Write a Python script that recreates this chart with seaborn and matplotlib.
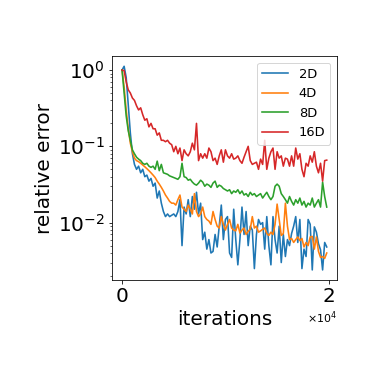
"""
Relative error vs. iterations for different dimensions (log scale)
"""

import numpy as np
import pandas as pd
import matplotlib
matplotlib.use("Agg")
import matplotlib.pyplot as plt
import seaborn as sns

plt.rcParams.update({
    'font.family': 'DejaVu Sans',
    'font.size': 11,
})

# iterations, sampled every 200 steps
iterations = list(range(0, 20000, 200))

err_2d = [1.0, 1.12, 0.8, 0.35, 0.15, 0.08, 0.058, 0.05, 0.055, 0.045,
          0.05, 0.04, 0.042, 0.035, 0.038, 0.03, 0.033, 0.021, 0.026, 0.018,
          0.014, 0.012, 0.013, 0.012, 0.0125, 0.013, 0.012, 0.014, 0.02, 0.005,
          0.016, 0.013, 0.02, 0.012, 0.022, 0.015, 0.025, 0.013, 0.018, 0.006,
          0.0075, 0.0045, 0.006, 0.004, 0.0042, 0.007, 0.0048, 0.009, 0.017, 0.006,
          0.011, 0.012, 0.004, 0.0035, 0.015, 0.006, 0.0028, 0.006, 0.016, 0.007,
          0.014, 0.005, 0.009, 0.008, 0.0025, 0.007, 0.011, 0.0095, 0.01, 0.0045,
          0.012, 0.005, 0.0028, 0.012, 0.006, 0.004, 0.009, 0.003, 0.007, 0.0036,
          0.006, 0.005, 0.0072, 0.009, 0.012, 0.0055, 0.011, 0.0025, 0.0045, 0.0036,
          0.011, 0.0095, 0.0024, 0.0088, 0.0075, 0.0053, 0.0044, 0.0024, 0.0055, 0.0048]

err_4d = [1.0, 0.6, 0.3, 0.17, 0.11, 0.085, 0.07, 0.065, 0.063, 0.06,
          0.057, 0.054, 0.051, 0.048, 0.045, 0.042, 0.039, 0.035, 0.032, 0.029,
          0.026, 0.023, 0.021, 0.019, 0.018, 0.018, 0.017, 0.02, 0.023, 0.016,
          0.015, 0.014, 0.017, 0.015, 0.013, 0.024, 0.014, 0.012, 0.013, 0.016,
          0.012, 0.011, 0.0105, 0.0095, 0.014, 0.011, 0.009, 0.0085, 0.012, 0.0095,
          0.008, 0.0095, 0.011, 0.0085, 0.008, 0.0078, 0.0095, 0.0073, 0.008, 0.0085,
          0.007, 0.0077, 0.0082, 0.012, 0.0085, 0.009, 0.0075, 0.0078, 0.0082, 0.0085,
          0.0072, 0.0068, 0.0075, 0.007, 0.0095, 0.0175, 0.011, 0.0068, 0.0072, 0.018,
          0.009, 0.006, 0.0062, 0.0055, 0.006, 0.0065, 0.0058, 0.0062, 0.0048, 0.0055,
          0.005, 0.0065, 0.0066, 0.0045, 0.0065, 0.0042, 0.0035, 0.0036, 0.0034, 0.004]

err_8d = [1.0, 0.5, 0.25, 0.16, 0.12, 0.09, 0.08, 0.072, 0.068, 0.065,
          0.06, 0.058, 0.06, 0.055, 0.053, 0.055, 0.05, 0.064, 0.048, 0.058,
          0.045, 0.044, 0.043, 0.041, 0.04, 0.039, 0.038, 0.037, 0.04, 0.06,
          0.04, 0.039, 0.036, 0.037, 0.034, 0.032, 0.031, 0.033, 0.036, 0.034,
          0.03, 0.032, 0.031, 0.029, 0.033, 0.035, 0.029, 0.031, 0.03, 0.028,
          0.027, 0.026, 0.027, 0.024, 0.026, 0.025, 0.027, 0.024, 0.026, 0.023,
          0.024, 0.022, 0.025, 0.023, 0.024, 0.022, 0.023, 0.024, 0.021, 0.023,
          0.025, 0.022, 0.02, 0.022, 0.03, 0.032, 0.03, 0.024, 0.022, 0.02,
          0.018, 0.022, 0.019, 0.017, 0.02, 0.018, 0.021, 0.017, 0.019, 0.016,
          0.018, 0.017, 0.021, 0.016, 0.018, 0.02, 0.016, 0.034, 0.022, 0.016]

err_16d = [1.0, 0.98, 0.7, 0.55, 0.5, 0.43, 0.4, 0.34, 0.3, 0.32,
           0.26, 0.22, 0.23, 0.18, 0.2, 0.17, 0.17, 0.14, 0.15, 0.12,
           0.12, 0.115, 0.12, 0.11, 0.105, 0.085, 0.1, 0.08, 0.095, 0.065,
           0.09, 0.08, 0.075, 0.085, 0.11, 0.09, 0.2, 0.065, 0.08, 0.07,
           0.08, 0.07, 0.095, 0.085, 0.065, 0.07, 0.058, 0.075, 0.09, 0.062,
           0.09, 0.075, 0.07, 0.08, 0.068, 0.07, 0.075, 0.065, 0.06, 0.072,
           0.085, 0.1, 0.065, 0.058, 0.06, 0.062, 0.05, 0.068, 0.058, 0.12,
           0.05, 0.07, 0.085, 0.095, 0.05, 0.085, 0.07, 0.075, 0.055, 0.07,
           0.068, 0.055, 0.075, 0.055, 0.095, 0.068, 0.08, 0.05, 0.04, 0.06,
           0.055, 0.075, 0.062, 0.085, 0.055, 0.045, 0.06, 0.035, 0.065, 0.066]

labels = ['2D', '4D', '8D', '16D']
series = [err_2d, err_4d, err_8d, err_16d]

df = pd.concat([
    pd.DataFrame({'iterations': iterations, 'error': vals, 'dim': lab})
    for lab, vals in zip(labels, series)
], ignore_index=True)

fig = plt.figure(figsize=(374 / 72, 374 / 72), dpi=72)
ax = fig.add_axes([0.299, 0.251, 0.602, 0.599])

sns.lineplot(data=df, x='iterations', y='error', hue='dim', hue_order=labels,
             palette=sns.color_palette('tab10', 4), linewidth=1.6,
             estimator=None, ax=ax)

ax.set_yscale('log')
ax.set_xticks([0, 20000])
ax.ticklabel_format(axis='x', style='sci', scilimits=(0, 0), useMathText=True)
ax.tick_params(axis='both', which='major', labelsize=20)

ax.set_xlabel('iterations', fontsize=20)
ax.set_ylabel('relative error', fontsize=20)

handles, lbls = ax.get_legend_handles_labels()
ax.legend(handles, lbls, loc='upper right', fontsize=13)

fig.savefig('out.png', dpi=72, facecolor='white')
plt.close(fig)
